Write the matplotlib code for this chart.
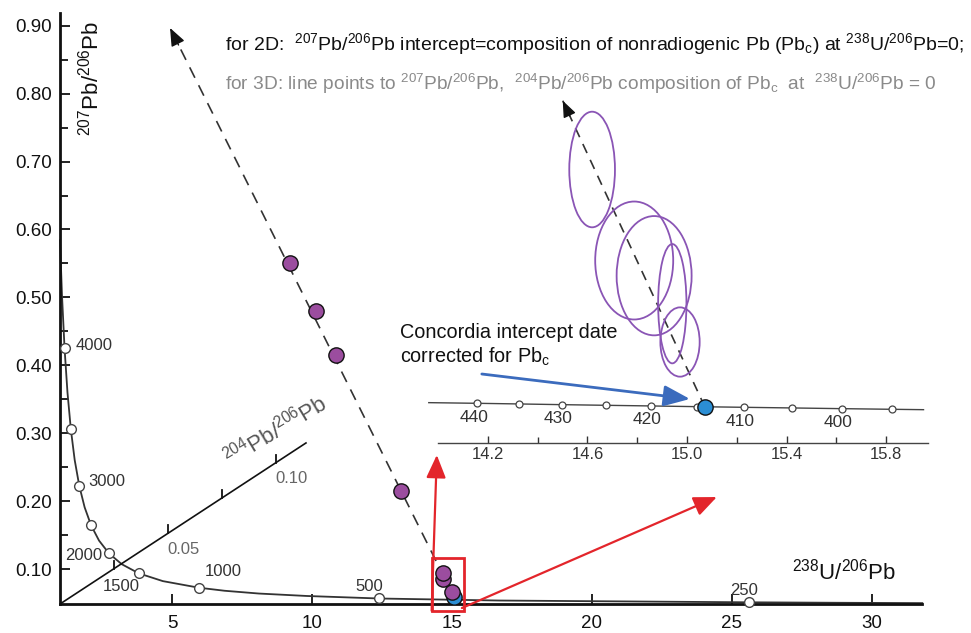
import matplotlib
matplotlib.use('Agg')
import matplotlib.pyplot as plt
from matplotlib.patches import Ellipse, Rectangle

plt.rcParams['font.family'] = ['Liberation Sans', 'DejaVu Sans']
plt.rcParams['mathtext.fontset'] = 'custom'
plt.rcParams['mathtext.rm'] = 'Liberation Sans'
plt.rcParams['mathtext.it'] = 'Liberation Sans:italic'
plt.rcParams['mathtext.bf'] = 'Liberation Sans:bold'

# ---------------- data ----------------
# main concordia curve (238U/206Pb, 207Pb/206Pb)
conc_x = [1.00, 1.071, 1.163, 1.267, 1.387, 1.525, 1.688, 1.880, 2.111, 2.394,
          2.749, 3.206, 3.817, 4.673, 5.959, 6.878, 8.105, 9.822, 12.40, 16.69,
          25.60, 28.80, 31.80]
conc_y = [0.584, 0.503, 0.4248, 0.360, 0.3059, 0.2605, 0.2226, 0.1909, 0.1643, 0.1419,
          0.1230, 0.1071, 0.0936, 0.0822, 0.0725, 0.0680, 0.0639, 0.0603, 0.0566, 0.0536,
          0.0510, 0.0503, 0.0498]
# age markers on main concordia
age_marks = [4000, 3500, 3000, 2500, 2000, 1500, 1000, 500, 250]
age_x = [1.163, 1.387, 1.688, 2.111, 2.749, 3.817, 5.959, 12.40, 25.60]
age_y = [0.4248, 0.3059, 0.2226, 0.1643, 0.1230, 0.0936, 0.0725, 0.0566, 0.0510]
age_labels = ['4000', '', '3000', '', '2000', '1500', '1000', '500', '250']

# analyses (main panel)
purple_x = [9.21, 10.13, 10.86, 13.18, 14.69, 14.69, 14.99]
purple_y = [0.5502, 0.4800, 0.4152, 0.2149, 0.0937, 0.0848, 0.0666]
blue_x = [15.07]
blue_y = [0.0592]
common_pb_tip = (4.93, 0.8968)

# 204Pb/206Pb axis
pb204_ticks = [0.025, 0.05, 0.075, 0.10]
pb204_ticklabels = {0.05: '0.05', 0.10: '0.10'}
pb204_max = 0.1139

# main ticks
x_ticks = [5, 10, 15, 20, 25, 30]
y_ticks = [0.10, 0.20, 0.30, 0.40, 0.50, 0.60, 0.70, 0.80, 0.90]
y_minor = [0.15, 0.25, 0.35, 0.45, 0.55, 0.65, 0.75, 0.85]

# inset concordia
ins_ages = [445, 440, 435, 430, 425, 420, 415, 410, 405, 400, 395, 392]
ins_x = [13.963, 14.157, 14.325, 14.497, 14.674, 14.854, 15.039, 15.228, 15.422, 15.621, 15.825, 15.950]
ins_y = [0.05581, 0.05569, 0.05557, 0.05544, 0.05532, 0.05520, 0.05507, 0.05495, 0.05483, 0.05470, 0.05458, 0.05451]
ins_ticks = [14.2, 14.6, 15.0, 15.4, 15.8]
ins_minor = [14.4, 14.8, 15.2, 15.6]

# inset error ellipses: centre x, centre y, width, height
ell_x = [14.619, 14.788, 14.868, 14.941, 14.972]
ell_y = [0.09895, 0.08211, 0.0793, 0.07412, 0.06703]
ell_w = [0.1835, 0.3133, 0.3012, 0.1137, 0.1578]
ell_h = [0.02139, 0.02183, 0.02207, 0.02207, 0.01282]
ins_blue = (15.072, 0.0550)
ins_tip = (14.501, 0.11168)

# ---------------- styles ----------------
PURPLE = '#9b4d9f'
BLUE = '#2b8ed4'
RED = '#e3252b'
ARROW_BLUE = '#3b6bbd'
ELL = '#8a55b5'

W, H = 971, 633
fig = plt.figure(figsize=(W / 100, H / 100), dpi=100)

# main axes in pixel box
L, R, B, T = 60, 922, 604, 13
ax = fig.add_axes([L / W, (H - B) / H, (R - L) / W, (B - T) / H])
ax.set_xlim(1.0, 31.79)
ax.set_ylim(0.0485, 0.9188)
for s in ['top', 'right']:
    ax.spines[s].set_visible(False)
for s in ['left', 'bottom']:
    ax.spines[s].set_linewidth(2.0)
    ax.spines[s].set_color('#111111')
ax.set_xticks(x_ticks)
ax.set_xticklabels([str(v) for v in x_ticks])
ax.set_yticks(y_ticks)
ax.set_yticklabels(['%.2f' % v for v in y_ticks])
ax.set_yticks(y_minor, minor=True)
ax.tick_params(axis='both', which='major', direction='in', length=7, width=1.3,
               labelsize=13.5, colors='#111111', pad=6)
ax.tick_params(axis='y', which='minor', direction='in', length=6, width=1.3, colors='#111111')
ax.tick_params(axis='x', which='major', pad=8)
ax.patch.set_alpha(0)

# axis titles placed inside
ax.text(844, H - 572, r'$^{238}$U/$^{206}$Pb', transform=None, fontsize=16,
        ha='center', va='center', color='#111111')
ax.text(91, H - 78, r'$^{207}$Pb/$^{206}$Pb', transform=None, fontsize=16,
        ha='center', va='center', rotation=90, color='#111111')

# concordia
ax.plot(conc_x, conc_y, color='#333333', lw=1.3, zorder=2, clip_on=False)
ax.plot(age_x, age_y, 'o', ms=7, mfc='white', mec='#444444', mew=1.0, zorder=3, clip_on=False)
age_offsets = {'4000': (11, 3, 'left'), '3000': (9, 4, 'left'), '2000': (-7, -2, 'right'),
               '1500': (-18, -13, 'center'), '1000': (6, 16, 'left'), '500': (-10, 12, 'center'),
               '250': (-5, 12, 'center')}
for xv, yv, lab in zip(age_x, age_y, age_labels):
    if lab:
        dx, dy, ha = age_offsets[lab]
        ax.annotate(lab, (xv, yv), xytext=(dx * 0.72, dy * 0.72), textcoords='offset points',
                    ha=ha, va='center', fontsize=12, color='#333333')

# 204Pb/206Pb axis
o = (1.0, 0.0485)
v10 = (8.714, 0.2567)
def p204(v):
    f = v / 0.10
    return o[0] + f * (v10[0] - o[0]), o[1] + f * (v10[1] - o[1])
ex, ey = p204(pb204_max)
ax.plot([o[0], ex], [o[1], ey], color='#111111', lw=1.2, zorder=2)
for v in pb204_ticks:
    tx, ty = p204(v)
    ax.plot([tx, tx], [ty, ty + 0.0118], color='#111111', lw=1.3, zorder=2)
    if v in pb204_ticklabels:
        ax.annotate(pb204_ticklabels[v], (tx, ty), xytext=(16 * 0.72, -16 * 0.72),
                    textcoords='offset points', ha='center', va='center', fontsize=12,
                    color='#666666')
ax.text(8.707, 0.3047, r'$^{204}$Pb/$^{206}$Pb', fontsize=16, rotation=31,
        ha='center', va='center', color='#555555', rotation_mode='anchor')

# dashed mixing line with arrow head
ax.plot([blue_x[0], common_pb_tip[0]], [blue_y[0], common_pb_tip[1]], color='#333333',
        lw=1.2, dashes=(7, 5), zorder=2)
bx = common_pb_tip[0] + 0.03 * (blue_x[0] - common_pb_tip[0])
by = common_pb_tip[1] + 0.03 * (blue_y[0] - common_pb_tip[1])
ax.annotate('', xy=common_pb_tip, xytext=(bx, by),
            arrowprops=dict(arrowstyle='-|>,head_length=0.55,head_width=0.22', mutation_scale=20,
                            color='#111111', lw=1.0, shrinkA=0, shrinkB=0))

# analyses
ax.plot(blue_x, blue_y, 'o', ms=11, mfc=BLUE, mec='#111111', mew=1.0, zorder=4)
for xv, yv in list(zip(purple_x, purple_y))[::-1]:
    ax.plot([xv], [yv], 'o', ms=11, mfc=PURPLE, mec='#111111', mew=1.0, zorder=5)

# red box and arrows
ax.add_patch(Rectangle((14.275, 0.0386), 15.43 - 14.275, 0.1162 - 0.0386, fill=False,
                       ec=RED, lw=2.0, zorder=6, clip_on=False))
red_style = dict(arrowstyle='-|>,head_length=0.7,head_width=0.3', mutation_scale=20,
                 color=RED, lw=1.6, shrinkA=0, shrinkB=0)
ax.annotate('', xy=(14.46, 0.2679), xytext=(14.275, 0.0386), arrowprops=red_style,
            annotation_clip=False, zorder=6)
ax.annotate('', xy=(24.46, 0.2060), xytext=(15.357, 0.0426), arrowprops=red_style,
            annotation_clip=False, zorder=6)

# ---------------- inset ----------------
IL, IR, IB, IT = 438, 928, 442.7, 90
ia = fig.add_axes([IL / W, (H - IB) / H, (IR - IL) / W, (IB - IT) / H])
ia.patch.set_alpha(0)
ia.set_xlim(14.0, 15.968)
ia.set_ylim(0.0484, 0.11366)
for s in ['top', 'right', 'left']:
    ia.spines[s].set_visible(False)
ia.spines['bottom'].set_linewidth(1.0)
ia.spines['bottom'].set_color('#444444')
ia.set_yticks([])
ia.set_xticks(ins_ticks)
ia.set_xticklabels(['%.1f' % v for v in ins_ticks])
ia.set_xticks(ins_minor, minor=True)
ia.tick_params(axis='x', which='major', direction='in', length=5, width=1.0,
               labelsize=12, colors='#333333', pad=3)
ia.tick_params(axis='x', which='minor', direction='in', length=4, width=1.0, colors='#333333')

ia.plot(ins_x, ins_y, color='#444444', lw=1.0, zorder=2, clip_on=False)
mk = [i for i, a in enumerate(ins_ages) if 395 <= a <= 440]
ia.plot([ins_x[i] for i in mk], [ins_y[i] for i in mk], 'o', ms=5, mfc='white',
        mec='#444444', mew=0.9, zorder=3, clip_on=False)
for i in mk:
    if ins_ages[i] % 10 == 0:
        ia.annotate(str(ins_ages[i]), (ins_x[i], ins_y[i]), xytext=(-3.5 * 0.72, -14 * 0.72),
                    textcoords='offset points', ha='center', va='center', fontsize=12.5,
                    color='#333333')

for cx, cy, w, h in zip(ell_x, ell_y, ell_w, ell_h):
    ia.add_patch(Ellipse((cx, cy), w, h, fill=False, ec=ELL, lw=1.3, zorder=3, clip_on=False))

ia.plot([ins_blue[0], ins_tip[0]], [ins_blue[1], ins_tip[1]], color='#333333', lw=1.2,
        dashes=(6, 4.5), zorder=2, clip_on=False)
bx = ins_tip[0] + 0.05 * (ins_blue[0] - ins_tip[0])
by = ins_tip[1] + 0.05 * (ins_blue[1] - ins_tip[1])
ia.annotate('', xy=ins_tip, xytext=(bx, by),
            arrowprops=dict(arrowstyle='-|>,head_length=0.5,head_width=0.2', mutation_scale=20,
                            color='#111111', lw=1.0, shrinkA=0, shrinkB=0),
            annotation_clip=False)
ia.plot([ins_blue[0]], [ins_blue[1]], 'o', ms=11, mfc=BLUE, mec='#111111', mew=1.0,
        zorder=5, clip_on=False)

# blue arrow + text
ia.annotate('', xy=(15.012, 0.05649), xytext=(14.176, 0.06111),
            arrowprops=dict(arrowstyle='-|>,head_length=0.8,head_width=0.32', mutation_scale=20,
                            color=ARROW_BLUE, lw=2.0, shrinkA=0, shrinkB=0),
            annotation_clip=False)
fig.text(400 / W, 1 - 333 / H, 'Concordia intercept date', fontsize=14.3, ha='left',
         va='center', color='#111111')
fig.text(400 / W, 1 - 357 / H, r'corrected for Pb$_{\mathrm{c}}$', fontsize=14.3, ha='left',
         va='center', color='#111111')

# top annotation lines
fig.text(225 / W, 1 - 50 / H,
         r'for 2D:  $^{207}$Pb/$^{206}$Pb intercept=composition of nonradiogenic Pb (Pb$_{\mathrm{c}}$) at $^{238}$U/$^{206}$Pb=0;',
         fontsize=14.0, ha='left', va='baseline', color='#111111')
fig.text(225 / W, 1 - 90 / H,
         r'for 3D: line points to $^{207}$Pb/$^{206}$Pb,  $^{204}$Pb/$^{206}$Pb composition of Pb$_{\mathrm{c}}$  at  $^{238}$U/$^{206}$Pb = 0',
         fontsize=13.8, ha='left', va='baseline', color='#8a8a8a')

fig.savefig('out.png', dpi=100)
